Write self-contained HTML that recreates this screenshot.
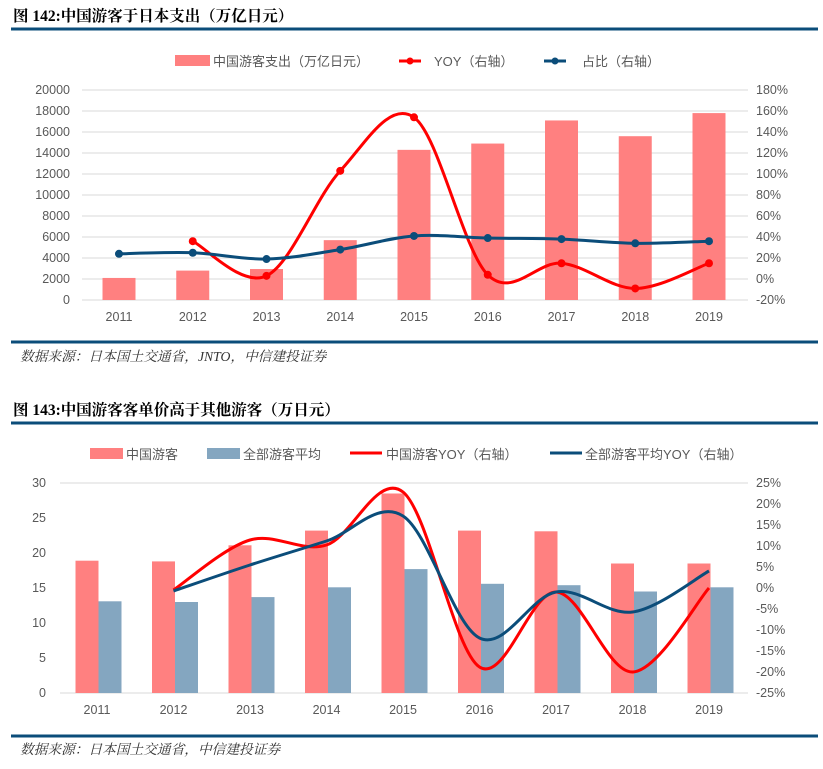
<!DOCTYPE html>
<html><head><meta charset="utf-8"><style>
body{margin:0;background:#fff;width:823px;height:769px;overflow:hidden}
svg{display:block}
text{font-family:"Liberation Sans","Noto Sans CJK SC",sans-serif}
.t{font-family:"Liberation Serif","Noto Serif CJK SC",serif;font-weight:bold;font-size:15.5px;fill:#000}
.s{font-family:"Liberation Serif","Noto Serif CJK SC",serif;font-style:italic;font-size:13.7px;fill:#333}
.a{font-size:12.5px;fill:#595959}
.l{font-size:13px;fill:#595959}
</style></head><body>
<svg id="c" width="823" height="769" xmlns="http://www.w3.org/2000/svg">
<text class="t" x="13" y="21">图 142:中国游客于日本支出（万亿日元）</text>
<rect x="11" y="27.5" width="807" height="3" fill="#0b4d7a"/>
<rect x="11" y="340.5" width="807" height="3" fill="#0b4d7a"/>
<text class="s" x="20" y="361">数据来源：日本国土交通省，JNTO，中信建投证券</text>
<text class="t" x="13" y="415">图 143:中国游客客单价高于其他游客（万日元）</text>
<rect x="11" y="421.5" width="807" height="3" fill="#0b4d7a"/>
<rect x="11" y="734.5" width="807" height="3" fill="#0b4d7a"/>
<text class="s" x="20" y="754">数据来源：日本国土交通省，中信建投证券</text>
<!-- legend 1 -->
<rect x="175" y="55" width="35" height="11" fill="#ff8080"/>
<text class="l" x="213" y="66">中国游客支出（万亿日元）</text>
<line x1="399" y1="61" x2="421" y2="61" stroke="#f00" stroke-width="3"/><circle cx="410" cy="61" r="3.5" fill="#f00"/>
<text class="l" x="434" y="66">YOY（右轴）</text>
<line x1="544" y1="61" x2="566" y2="61" stroke="#0b4d7a" stroke-width="3"/><circle cx="555" cy="61" r="3.5" fill="#0b4d7a"/>
<text class="l" x="582" y="66">占比（右轴）</text>
<!-- legend 2 -->
<rect x="90" y="448" width="33" height="11" fill="#ff8080"/>
<text class="l" x="126" y="459">中国游客</text>
<rect x="207" y="448" width="33" height="11" fill="#84a6c0"/>
<text class="l" x="243" y="459">全部游客平均</text>
<line x1="350" y1="453" x2="382" y2="453" stroke="#f00" stroke-width="3"/>
<text class="l" x="386" y="459">中国游客YOY（右轴）</text>
<line x1="550" y1="453" x2="582" y2="453" stroke="#0b4d7a" stroke-width="3"/>
<text class="l" x="585" y="459">全部游客平均YOY（右轴）</text>
<g id="g"></g>
</svg>
<script>
var g=document.getElementById('g'),h='';
function path(p){var d='M'+p[0][0]+','+p[0][1];for(var i=0;i<p.length-1;i++){var a=p[i-1]||p[i],b=p[i],c=p[i+1],e=p[i+2]||c;d+=' C'+(b[0]+(c[0]-a[0])/6)+','+(b[1]+(c[1]-a[1])/6)+' '+(c[0]-(e[0]-b[0])/6)+','+(c[1]-(e[1]-b[1])/6)+' '+c[0]+','+c[1];}return d;}
for(var i=0;i<=10;i++){var y=90+i*21;h+='<line x1="82" x2="748" y1="'+y+'" y2="'+y+'" stroke="#d9d9d9"/>';h+='<text class="a" x="70" y="'+(y+4)+'" text-anchor="end">'+(20000-i*2000)+'</text>';h+='<text class="a" x="756" y="'+(y+4)+'">'+(180-i*20)+'%</text>';}
var b1=[2100,2800,2950,5700,14300,14900,17100,15600,17800],yy=[null,36,3,103,154,4,15,-9,15],zb=[24,25,19,28,41,39,38,34,36];
var p1=[],p2=[];
for(var i=0;i<9;i++){var x=119+i*73.75,hh=b1[i]*0.0105;h+='<rect x="'+(x-16.5)+'" y="'+(300-hh)+'" width="33" height="'+hh+'" fill="#ff8080"/>';h+='<text class="a" x="'+x+'" y="321" text-anchor="middle">'+(2011+i)+'</text>';if(yy[i]!==null)p1.push([x,279-yy[i]*1.05]);p2.push([x,279-zb[i]*1.05]);}
h+='<path d="'+path(p1)+'" fill="none" stroke="#f00" stroke-width="3"/>';
h+='<path d="'+path(p2)+'" fill="none" stroke="#0b4d7a" stroke-width="3"/>';
p1.forEach(function(p){h+='<circle cx="'+p[0]+'" cy="'+p[1]+'" r="4" fill="#f00"/>'});
p2.forEach(function(p){h+='<circle cx="'+p[0]+'" cy="'+p[1]+'" r="4" fill="#0b4d7a"/>'});
for(var i=0;i<=6;i++){var y=483+i*35;h+='<text class="a" x="46" y="'+(y+4)+'" text-anchor="end">'+(30-i*5)+'</text>';}
h+='<line x1="60" x2="748" y1="693" y2="693" stroke="#d9d9d9"/><line x1="60" x2="748" y1="483" y2="483" stroke="#d9d9d9"/>';
for(var i=0;i<=10;i++){var y=483+i*21;h+='<text class="a" x="756" y="'+(y+4)+'">'+(25-i*5)+'%</text>';}
var r=[18.9,18.8,21.1,23.2,28.5,23.2,23.1,18.5,18.5],bl=[13.1,13.0,13.7,15.1,17.7,15.6,15.4,14.5,15.1];
var ry=[590,540,545,492,667,592,672,588],by=[591,565,541,516,638,592,612,571];p1=[];p2=[];
for(var i=0;i<9;i++){var x=97+i*76.5;h+='<rect x="'+(x-21.5)+'" y="'+(693-r[i]*7)+'" width="23" height="'+(r[i]*7)+'" fill="#ff8080"/>';h+='<rect x="'+(x+1.5)+'" y="'+(693-bl[i]*7)+'" width="23" height="'+(bl[i]*7)+'" fill="#84a6c0"/>';h+='<text class="a" x="'+x+'" y="714" text-anchor="middle">'+(2011+i)+'</text>';if(i>0){p1.push([x,ry[i-1]]);p2.push([x,by[i-1]]);}}
h+='<path d="'+path(p1)+'" fill="none" stroke="#f00" stroke-width="3"/>';
h+='<path d="'+path(p2)+'" fill="none" stroke="#0b4d7a" stroke-width="3"/>';
g.innerHTML=h;
</script>
</body></html>
